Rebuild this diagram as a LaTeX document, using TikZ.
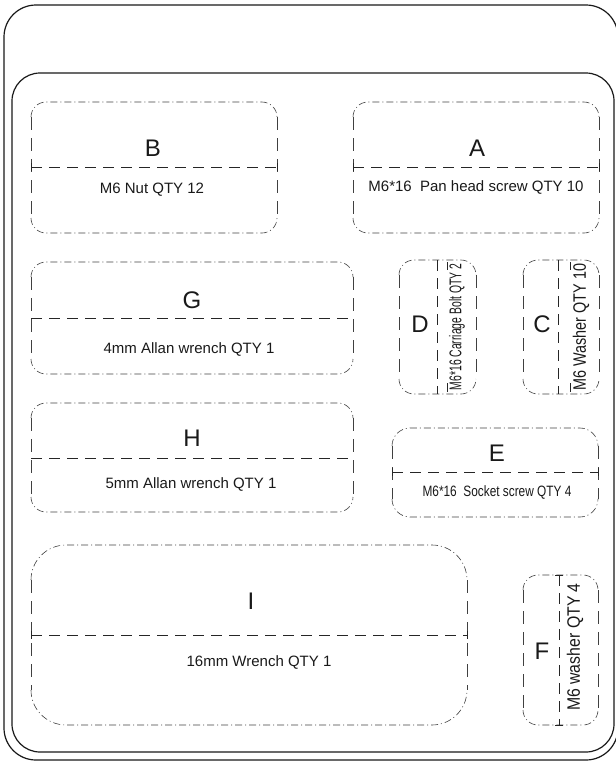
\documentclass[tikz,border=0pt]{standalone}
\usepackage{fontspec}
\setmainfont{Liberation Sans}
\usepackage{graphicx}
\begin{document}
\begin{tikzpicture}[x=1pt,y=1pt,
  outerline/.style={draw=black!90,line width=1.2pt},
  trayh/.style={draw=black!75,line width=0.6pt,dash pattern=on 7pt off 3pt on 1pt off 3pt},
  trayv/.style={draw=black!75,line width=0.6pt,dash pattern=on 13pt off 8pt},
  divl/.style={draw=black!85,line width=0.8pt,dash pattern=on 11pt off 7pt},
  tickl/.style={draw=black!85,line width=0.8pt},
  big/.style={inner sep=0pt,text=black!90,font=\fontsize{24}{28}\selectfont},
  small/.style={inner sep=0pt,text=black!90,font=\fontsize{15}{18}\selectfont}]
\newcommand\tray[5]{%
  \draw[trayh] (#1,-#2-#5) arc[start angle=180,end angle=90,radius=#5] -- (#3-#5,-#2) arc[start angle=90,end angle=0,radius=#5];
  \draw[trayh] (#1,-#4+#5) arc[start angle=180,end angle=270,radius=#5] -- (#3-#5,-#4) arc[start angle=270,end angle=360,radius=#5];
  \draw[trayv] (#1,-#2-#5) -- (#1,-#4+#5);
  \draw[trayv] (#3,-#2-#5) -- (#3,-#4+#5);}
\newcommand\hdiv[4]{%
  \draw[divl] (#1,-#3) -- (#2,-#3);
  \ifnum#4=1 \draw[tickl] (#1,-#3+4) -- (#1,-#3-4); \draw[tickl] (#2,-#3+4) -- (#2,-#3-4);\fi}
\newcommand\vdiv[4]{%
  \draw[divl] (#3,-#1) -- (#3,-#2);
  \ifnum#4=1 \draw[tickl] (#3-4,-#1) -- (#3+4,-#1); \draw[tickl] (#3-4,-#2) -- (#3+4,-#2);\fi}
\useasboundingbox (0,0) rectangle (616,-761);
\clip (0,0) rectangle (616,-761);
% outer frames
\draw[outerline,rounded corners=32pt] (4,-5) rectangle (618,-760);
\draw[outerline,rounded corners=28pt] (12,-73) rectangle (614,-752);
% B
\tray{31}{102}{277}{233}{15}
\hdiv{31}{277}{167}{1}
\node[big] (B) at (153,-148) {B};
\node[small] (Bt) at (152,-190) {M6 Nut QTY 12};
% A
\tray{353}{102}{599}{233}{15}
\hdiv{353}{599}{167}{1}
\node[big] (A) at (477,-148) {A};
\node[small] (At) at (476,-187) {M6*16\ \ Pan head screw QTY 10};
% G
\tray{31}{262}{353}{374}{15}
\hdiv{31}{353}{318}{0}
\node[big] (G) at (192,-300) {G};
\node[small] (Gt) at (189,-349) {4mm Allan wrench QTY 1};
% H
\tray{31}{403}{353}{512}{15}
\hdiv{31}{353}{458}{0}
\node[big] (H) at (192,-438) {H};
\node[small] (Ht) at (191,-484) {5mm Allan wrench QTY 1};
% I
\tray{31}{545}{467}{725}{35}
\hdiv{31}{467}{635}{1}
\node[big] (I) at (251,-601) {I};
\node[small] (It) at (259,-662) {16mm Wrench QTY 1};
% D
\tray{399}{260}{476}{394}{15}
\vdiv{260}{394}{437}{0}
\draw[tickl] (447,-262) -- (447,-270);
\draw[tickl] (447,-383) -- (447,-392);
\node[big] (D) at (420,-324) {D};
\node[inner sep=0pt,rotate=90,text=black!90] (Dt) at (457,-327) {\scalebox{0.61}[1]{\fontsize{17}{20}\selectfont M6*16 Carriage Bolt QTY 2}};
% C
\tray{523}{260}{599}{394}{15}
\vdiv{260}{394}{558}{0}
\draw[tickl] (570,-262) -- (570,-270);
\draw[tickl] (570,-383) -- (570,-392);
\node[big] (C) at (542,-324) {C};
\node[inner sep=0pt,rotate=90,text=black!90] (Ct) at (581,-327) {\scalebox{0.8}[1]{\fontsize{18}{21}\selectfont M6 Washer QTY 10}};
% E
\tray{392}{428}{598}{517}{18}
\hdiv{392}{598}{472}{1}
\node[big] (E) at (497,-453) {E};
\node[inner sep=0pt,text=black!90] (Et) at (497,-492) {\scalebox{0.79}[1]{\fontsize{15}{18}\selectfont M6*16\ \ Socket screw QTY 4}};
% F
\tray{523}{575}{598}{725}{15}
\vdiv{575}{725}{559}{1}
\node[big] (F) at (542,-651) {F};
\node[inner sep=0pt,rotate=90,text=black!90] (Ft) at (575,-647) {\scalebox{0.88}[1]{\fontsize{18}{21}\selectfont M6 washer QTY 4}};
\end{tikzpicture}
\end{document}
